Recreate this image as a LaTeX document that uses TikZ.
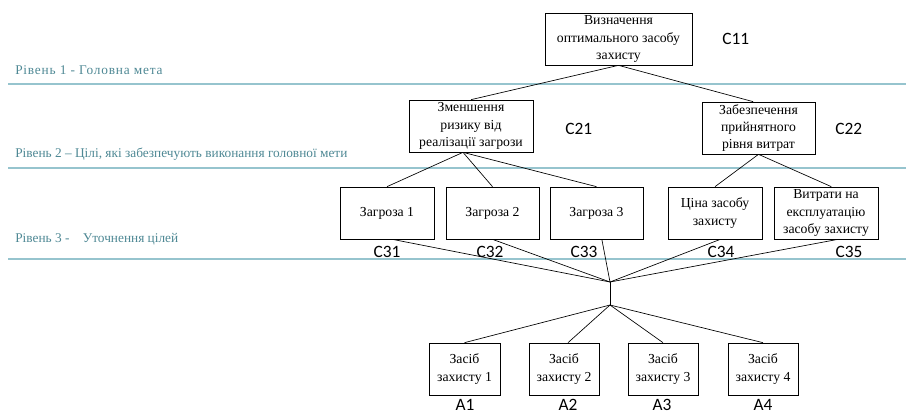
\documentclass[tikz,border=0pt]{standalone}
\usepackage{fontspec}
\setmainfont{Liberation Serif}
\newfontfamily\labfont{Carlito}
\newfontfamily\widefont[LetterSpace=6]{Liberation Serif}
\definecolor{levtext}{RGB}{78,136,148}
\definecolor{levline}{RGB}{150,196,206}
\begin{document}
\begin{tikzpicture}[x=0.75pt,y=-0.75pt,
  box/.style={draw=black,line width=0.5pt,rectangle,inner sep=1pt,align=center,
    font=\fontsize{10.3}{13}\selectfont,minimum height=39pt},
  clab/.style={font=\labfont\fontsize{13}{15}\selectfont,inner sep=0pt},
  levlab/.style={font=\fontsize{10}{12}\selectfont,text=levtext,anchor=base west,inner sep=0pt},
  levl/.style={draw=levline,line width=1.1pt},
  edge/.style={draw=black,line width=0.5pt}]
\useasboundingbox (0,0) rectangle (906,414);

% level lines and labels
\coordinate (l1a) at (8,84);  \coordinate (l1b) at (906,84);
\coordinate (l2a) at (8,168); \coordinate (l2b) at (906,168);
\coordinate (l3a) at (8,259); \coordinate (l3b) at (906,259);
\draw[levl] (l1a) -- (l1b);
\draw[levl] (l2a) -- (l2b);
\draw[levl] (l3a) -- (l3b);
\node[levlab] (lev1) at (15,74) {\widefont Рівень 1 - Головна мета};
\node[levlab] (lev2) at (15,157) {Рівень 2 – Цілі, які забезпечують виконання головної мети};
\node[levlab] (lev3) at (15,242) {Рівень 3 -\hspace{10pt}Уточнення цілей};

% boxes
\node[box,minimum width=110pt] (c11) at (618.5,39) {Визначення\\оптимального засобу\\захисту};
\node[box,minimum width=93pt] (c21) at (471,126) {Зменшення\\ризику від\\реалізації загрози};
\node[box,minimum width=85pt] (c22) at (758.5,128) {Забезпечення\\прийнятного\\рівня витрат};
\node[box,minimum width=70.5pt] (c31) at (387,213) {Загроза 1};
\node[box,minimum width=70pt] (c32) at (492.5,213) {Загроза 2};
\node[box,minimum width=70pt] (c33) at (596.5,213) {Загроза 3};
\node[box,minimum width=70.5pt] (c34) at (715,213) {Ціна засобу\\захисту};
\node[box,minimum width=78pt] (c35) at (826,213) {Витрати на\\експлуатацію\\засобу захисту};
\node[box,minimum width=53pt] (a1) at (464.5,369) {Засіб\\захисту 1};
\node[box,minimum width=52.5pt] (a2) at (564,369) {Засіб\\захисту 2};
\node[box,minimum width=52.5pt] (a3) at (663,369) {Засіб\\захисту 3};
\node[box,minimum width=52.5pt] (a4) at (763,369) {Засіб\\захисту 4};

% labels
\node[clab,anchor=west] (t11) at (722,39) {C11};
\node[clab,anchor=west] (t21) at (565,129) {C21};
\node[clab,anchor=west] (t22) at (835,129) {C22};
\node[clab] (t31) at (387,252) {C31};
\node[clab] (t32) at (490,252) {C32};
\node[clab] (t33) at (584,252) {C33};
\node[clab] (t34) at (721,252) {C34};
\node[clab] (t35) at (849,252) {C35};
\node[clab,anchor=base] (ta1) at (465,410.5) {A1};
\node[clab,anchor=base] (ta2) at (568,410.5) {A2};
\node[clab,anchor=base] (ta3) at (662,410.5) {A3};
\node[clab,anchor=base] (ta4) at (763,410.5) {A4};

% hub
\coordinate (hub) at (610,282);
\coordinate (hub2) at (610,305);

% connectors
\draw[edge] (c11.south) -- (c21.north);
\draw[edge] (c11.south) -- ([xshift=-4pt]c22.north);
\draw[edge] ([xshift=-6pt]c21.south) -- (c31.north);
\draw[edge] ([xshift=-6pt]c21.south) -- (c32.north);
\draw[edge] ([xshift=-6pt]c21.south) -- (c33.north);
\draw[edge] (c22.south) -- (c34.north);
\draw[edge] (c22.south) -- ([xshift=4pt]c35.north);
\draw[edge] ([xshift=4pt]c31.south) -- (hub);
\draw[edge] (c32.south) -- (hub);
\draw[edge] ([xshift=4pt]c33.south) -- (hub);
\draw[edge] ([xshift=4pt]c34.south) -- (hub);
\draw[edge] ([xshift=9pt]c35.south) -- (hub);
\draw[edge] (hub) -- (hub2);
\draw[edge] (hub2) -- (a1.north);
\draw[edge] (hub2) -- ([xshift=3pt]a2.north);
\draw[edge] (hub2) -- (a3.north);
\draw[edge] (hub2) -- (a4.north);
\end{tikzpicture}
\end{document}
